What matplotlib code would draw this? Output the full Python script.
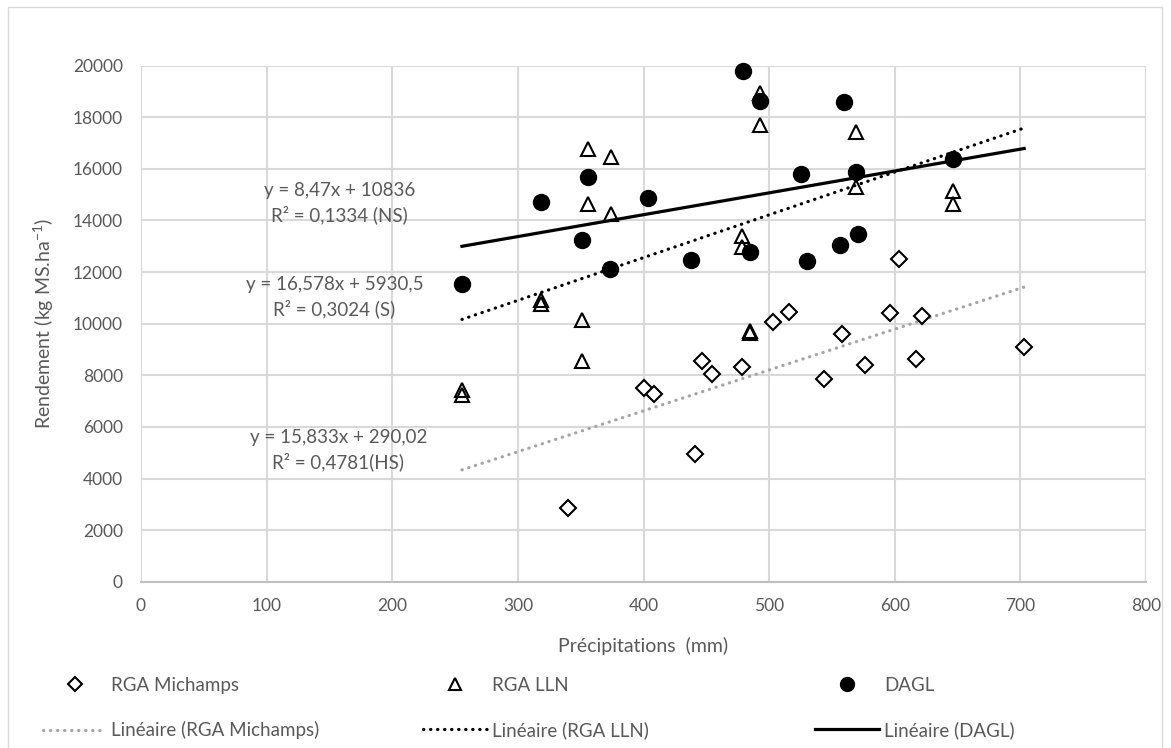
import matplotlib.pyplot as plt
from matplotlib.lines import Line2D

plt.rcParams['font.family'] = ['Lato', 'DejaVu Sans']
plt.rcParams['mathtext.fontset'] = 'custom'
plt.rcParams['mathtext.rm'] = 'Lato'

# data
mich_x = [339.5, 400, 408, 441, 446.5, 454.5, 478.5, 503, 515.5, 544, 558,
          576.5, 596.5, 603, 617, 621.5, 703]
mich_y = [2850, 7500, 7280, 4960, 8540, 8040, 8330, 10080, 10470, 7840, 9590,
          8400, 10400, 12500, 8640, 10280, 9080]

lln_x = [255.5, 255.5, 318, 318, 351, 351, 356, 356, 374, 374, 478.5, 478.5,
         484.5, 484.5, 492.5, 492.5, 569, 569, 646.5, 646.5]
lln_y = [7430, 7240, 10900, 10750, 10140, 8570, 16760, 14630, 16470, 14260,
         13400, 12980, 9700, 9650, 18950, 17700, 17440, 15310, 15140, 14640]

dagl_x = [255.5, 318, 351, 356, 373.5, 403.5, 437.5, 479, 484.5, 493, 525,
          530, 556, 559.5, 569, 570.5, 646.5]
dagl_y = [11540, 14730, 13240, 15680, 12120, 14880, 12470, 19800, 12790, 18650,
          15790, 12430, 13050, 18600, 15870, 13470, 16380]

# trend lines (coefficients as shown on the chart), over the common x range
trend_names = ['RGA Michamps', 'RGA LLN', 'DAGL']
trend_slope = [15.833, 16.578, 8.47]
trend_icpt = [290.02, 5930.5, 10836]
trend_x = [255.5, 703]
eq_text = ['y = 15,833x + 290,02\nR² = 0,4781(HS)',
           'y = 16,578x + 5930,5\nR² = 0,3024 (S)',
           'y = 8,47x + 10836\nR² = 0,1334 (NS)']
eq_pos = [(157, 5100), (154, 11020), (158, 14690)]

grey = '#595959'
fig = plt.figure(figsize=(11.71, 7.48), dpi=100)
ax = fig.add_axes([0.1204, 0.2223, 0.8583, 0.6899])

trend_styles = [dict(color='#A5A5A5', lw=2.3, ls=(0, (0.1, 2.1)), dash_capstyle='round'),
                dict(color='black', lw=2.3, ls=(0, (0.1, 2.1)), dash_capstyle='round'),
                dict(color='black', lw=2.3, ls='-')]
for s, b, st in zip(trend_slope, trend_icpt, trend_styles):
    ax.plot(trend_x, [s * x + b for x in trend_x], zorder=3, **st)

ax.plot(mich_x, mich_y, 'D', ms=8, mfc='white', mec='black', mew=1.5, zorder=4)
ax.plot(lln_x, lln_y, '^', ms=10, mfc='none', mec='black', mew=1.5, zorder=4)
ax.plot(dagl_x, dagl_y, 'o', ms=11.5, color='black', zorder=5, clip_on=False)

for t, (x, y) in zip(eq_text, eq_pos):
    ax.text(x, y, t, ha='center', va='center', fontsize=13.5, color=grey,
            linespacing=1.4)

ax.set_xlim(0, 800)
ax.set_ylim(0, 20000)
ax.set_xticks(range(0, 801, 100))
ax.set_yticks(range(0, 20001, 2000))
ax.grid(True, color='#D9D9D9', lw=1.5)
ax.set_axisbelow(True)
for sp in ['top', 'right', 'left']:
    ax.spines[sp].set_visible(False)
ax.spines['bottom'].set_color('#BFBFBF')
ax.spines['bottom'].set_linewidth(1.5)
ax.tick_params(length=0, labelsize=12.5, labelcolor=grey, pad=12)
ax.tick_params(axis='y', pad=13)
ax.set_xlabel('Précipitations  (mm)', fontsize=14, color=grey, labelpad=16)
ax.set_ylabel(r'Rendement (kg MS.ha$^{\mathregular{-1}}$)', fontsize=14,
              color=grey, labelpad=12)

# legend: one small legend per column
marker_h = [Line2D([], [], ls='none', marker='D', ms=7, mfc='white', mec='black', mew=1.5),
            Line2D([], [], ls='none', marker='^', ms=9, mfc='none', mec='black', mew=1.5),
            Line2D([], [], ls='none', marker='o', ms=10, color='black')]
line_h = [Line2D([], [], **st) for st in trend_styles]
col_x = [0.03, 0.355, 0.69]
for i in range(3):
    fig.legend([marker_h[i], line_h[i]],
               [trend_names[i], 'Linéaire (' + trend_names[i] + ')'],
               loc='upper left', bbox_to_anchor=(col_x[i], 0.105), frameon=False,
               fontsize=13.5, labelcolor=grey, handlelength=3.4,
               handletextpad=0.25, labelspacing=1.45, borderaxespad=0)

# outer chart border
fig.add_artist(plt.Line2D([0.007, 0.007, 0.992, 0.992], [0.0, 0.99, 0.99, 0.0],
                          transform=fig.transFigure, color='#D9D9D9', lw=1))

fig.savefig('out.png', dpi=100)
